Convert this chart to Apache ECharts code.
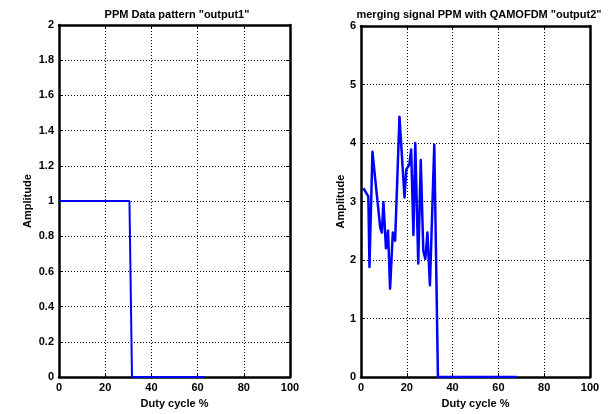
<!DOCTYPE html>
<html>
<head>
<meta charset="utf-8">
<script src="https://cdn.jsdelivr.net/npm/echarts@6/dist/echarts.min.js"></script>
<style>html,body{margin:0;padding:0;background:#fff;}#c{width:612px;height:414px;}</style>
</head>
<body>
<div id="c"></div>
<script>
// Left panel: PPM data pattern
const leftX = [0, 30.5, 31.6, 63];
const leftY = [1, 1, 0, 0];
// Right panel: merged PPM + QAM-OFDM signal
const rightX = [1.0, 3.2, 3.7, 5.0, 8.4, 9.1, 9.8, 10.9, 11.8, 12.7, 13.9, 14.9, 16.8, 19.0, 19.8, 21.1, 21.9, 22.9, 23.7, 25.0, 26.1, 27.2, 28.1, 29.0, 30.1, 32.0, 33.6, 68];
const rightY = [3.23, 3.09, 1.88, 3.85, 2.55, 2.47, 2.99, 2.2, 2.5, 1.51, 2.47, 2.33, 4.45, 3.07, 3.55, 3.63, 3.89, 2.43, 4.0, 1.94, 3.71, 2.16, 2.02, 2.47, 1.57, 3.97, 0, 0];
const xTicks = [0, 20, 40, 60, 80, 100];
const titles = ['PPM Data pattern "output1"', 'merging signal PPM with QAMOFDM "output2"'];
const xName = 'Duty cycle %';
const yName = 'Amplitude';

const FONT = '"Liberation Sans", Arial, sans-serif';
const lbl = {color: '#000', fontWeight: 'bold', fontSize: 11, fontFamily: FONT};
function pairs(xs, ys) { return xs.map((x, i) => [x, ys[i]]); }

const chart = echarts.init(document.getElementById('c'), null, {renderer: 'canvas'});
const grids = [
  {left: 59, top: 25, width: 231, height: 357},
  {left: 361, top: 26, width: 229, height: 356}
];
const frame = {show: true, onZero: false, lineStyle: {color: '#000', width: 2.5}};
const tick = {show: true, inside: true, length: 4, lineStyle: {color: '#000', width: 1}};
const dots = {show: true, lineStyle: {color: '#000', type: [1, 2], width: 1}};
function mainX(gi) {
  return {
    type: 'value', gridIndex: gi, min: 0, max: 100, interval: 20, position: 'bottom',
    name: xName, nameLocation: 'middle', nameGap: 17, nameTextStyle: lbl,
    axisLine: frame, axisTick: tick,
    axisLabel: Object.assign({margin: 5}, lbl),
    splitLine: dots
  };
}
function topX(gi) {
  return {
    type: 'value', gridIndex: gi, min: 0, max: 100, interval: 20, position: 'top',
    axisLine: frame, axisTick: tick,
    axisLabel: {show: false}, splitLine: {show: false}
  };
}
function mainY(gi, max, interval, gap) {
  return {
    type: 'value', gridIndex: gi, min: 0, max: max, interval: interval, position: 'left',
    name: yName, nameLocation: 'middle', nameGap: gap, nameTextStyle: lbl,
    axisLine: frame, axisTick: tick,
    axisLabel: Object.assign({margin: 5}, lbl),
    splitLine: dots
  };
}
function rightYAx(gi, max, interval) {
  return {
    type: 'value', gridIndex: gi, min: 0, max: max, interval: interval, position: 'right',
    axisLine: frame, axisTick: tick,
    axisLabel: {show: false}, splitLine: {show: false}
  };
}

chart.setOption({
  animation: false,
  backgroundColor: '#fff',
  title: [
    {text: titles[0], left: 172, top: 4, textAlign: 'center', textStyle: lbl},
    {text: titles[1], left: 474, top: 4, textAlign: 'center', textStyle: lbl}
  ],
  grid: grids,
  xAxis: [mainX(0), topX(0), mainX(1), topX(1)],
  yAxis: [mainY(0, 2, 0.2, 26), rightYAx(0, 2, 0.2), mainY(1, 6, 1, 14), rightYAx(1, 6, 1)],
  series: [
    {type: 'line', xAxisIndex: 0, yAxisIndex: 0, data: pairs(leftX, leftY), showSymbol: false,
     lineStyle: {color: '#0000ff', width: 2}, z: 5},
    {type: 'line', xAxisIndex: 2, yAxisIndex: 2, data: pairs(rightX, rightY), showSymbol: false,
     lineStyle: {color: '#0000ff', width: 2.5, join: 'round'}, z: 5}
  ]
});
</script>
</body>
</html>
